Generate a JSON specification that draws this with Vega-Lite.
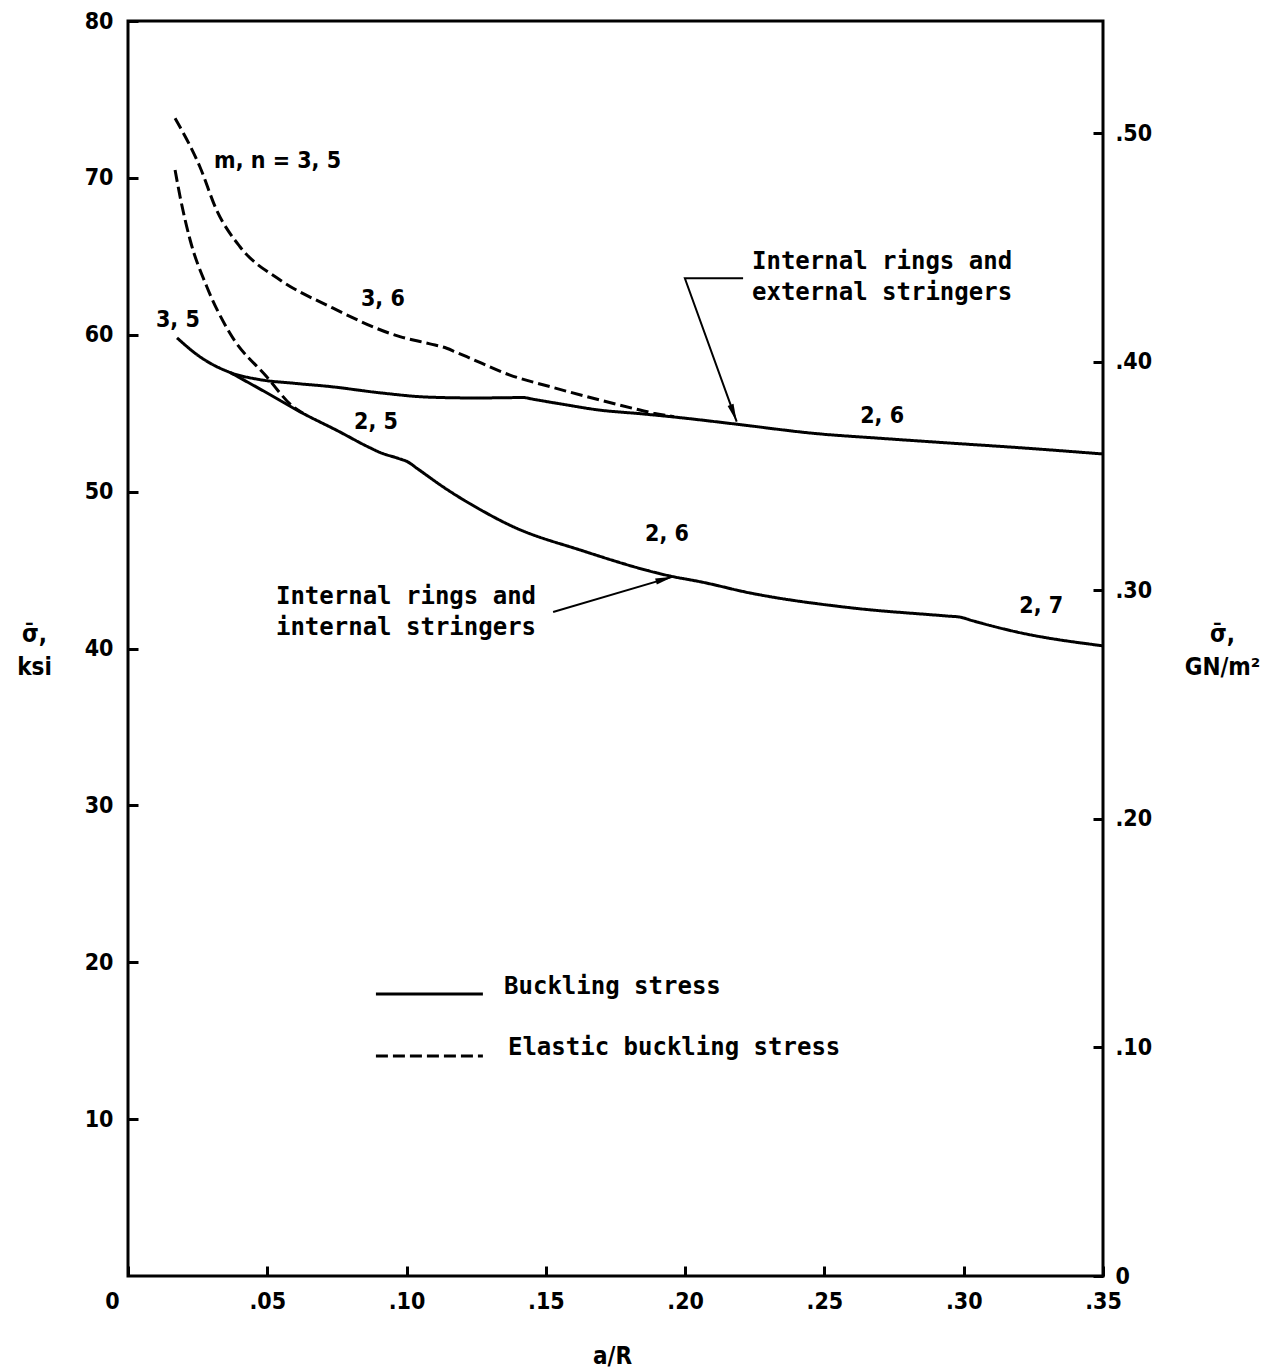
{
  "$schema": "https://vega.github.io/schema/vega-lite/v6.json",
  "autosize": {"type": "none"},
  "width": 975,
  "height": 1255,
  "padding": {"left": 128, "top": 21, "right": 174, "bottom": 94},
  "background": "white",
  "view": {"stroke": "black", "strokeWidth": 3},
  "config": {
    "font": "DejaVu Sans",
    "axis": {"labelColor": "black", "tickColor": "black", "titleColor": "black", "domain": false, "grid": false, "tickWidth": 3, "tickSize": 10, "offset": -10, "labelFlush": false, "labelFont": "DejaVu Sans Condensed, DejaVu Sans", "labelFontWeight": "bold", "labelFontSize": 23, "titleFont": "DejaVu Sans Condensed, DejaVu Sans", "titleFontSize": 24, "titleFontWeight": "bold"}
  },
  "datasets": {
    "curves": [
      {"curve": "ext_solid", "style": "solid", "a_R": 0.0176, "ksi": 59.8},
      {"curve": "ext_solid", "style": "solid", "a_R": 0.0258, "ksi": 58.6},
      {"curve": "ext_solid", "style": "solid", "a_R": 0.0366, "ksi": 57.6},
      {"curve": "ext_solid", "style": "solid", "a_R": 0.047, "ksi": 57.15},
      {"curve": "ext_solid", "style": "solid", "a_R": 0.06, "ksi": 56.9},
      {"curve": "ext_solid", "style": "solid", "a_R": 0.0724, "ksi": 56.7},
      {"curve": "ext_solid", "style": "solid", "a_R": 0.0904, "ksi": 56.3},
      {"curve": "ext_solid", "style": "solid", "a_R": 0.1083, "ksi": 56.02},
      {"curve": "ext_solid", "style": "solid", "a_R": 0.125, "ksi": 55.97},
      {"curve": "ext_solid", "style": "solid", "a_R": 0.137, "ksi": 55.99},
      {"curve": "ext_solid", "style": "solid", "a_R": 0.1416, "ksi": 56.0},
      {"curve": "ext_solid", "style": "solid", "a_R": 0.146, "ksi": 55.87},
      {"curve": "ext_solid", "style": "solid", "a_R": 0.155, "ksi": 55.6},
      {"curve": "ext_solid", "style": "solid", "a_R": 0.1692, "ksi": 55.2},
      {"curve": "ext_solid", "style": "solid", "a_R": 0.185, "ksi": 54.95},
      {"curve": "ext_solid", "style": "solid", "a_R": 0.199, "ksi": 54.7},
      {"curve": "ext_solid", "style": "solid", "a_R": 0.2184, "ksi": 54.3},
      {"curve": "ext_solid", "style": "solid", "a_R": 0.247, "ksi": 53.7},
      {"curve": "ext_solid", "style": "solid", "a_R": 0.27, "ksi": 53.4},
      {"curve": "ext_solid", "style": "solid", "a_R": 0.2947, "ksi": 53.1},
      {"curve": "ext_solid", "style": "solid", "a_R": 0.32, "ksi": 52.8},
      {"curve": "ext_solid", "style": "solid", "a_R": 0.35, "ksi": 52.4},

      {"curve": "int_solid", "style": "solid", "a_R": 0.0366, "ksi": 57.6},
      {"curve": "int_solid", "style": "solid", "a_R": 0.0498, "ksi": 56.3},
      {"curve": "int_solid", "style": "solid", "a_R": 0.0627, "ksi": 55.0},
      {"curve": "int_solid", "style": "solid", "a_R": 0.075, "ksi": 53.9},
      {"curve": "int_solid", "style": "solid", "a_R": 0.0868, "ksi": 52.8},
      {"curve": "int_solid", "style": "solid", "a_R": 0.0904, "ksi": 52.5},
      {"curve": "int_solid", "style": "solid", "a_R": 0.097, "ksi": 52.12},
      {"curve": "int_solid", "style": "solid", "a_R": 0.1004, "ksi": 51.9},
      {"curve": "int_solid", "style": "solid", "a_R": 0.104, "ksi": 51.45},
      {"curve": "int_solid", "style": "solid", "a_R": 0.1144, "ksi": 50.15},
      {"curve": "int_solid", "style": "solid", "a_R": 0.125, "ksi": 49.0},
      {"curve": "int_solid", "style": "solid", "a_R": 0.1383, "ksi": 47.76},
      {"curve": "int_solid", "style": "solid", "a_R": 0.1623, "ksi": 46.28},
      {"curve": "int_solid", "style": "solid", "a_R": 0.1957, "ksi": 44.58},
      {"curve": "int_solid", "style": "solid", "a_R": 0.2053, "ksi": 44.26},
      {"curve": "int_solid", "style": "solid", "a_R": 0.2233, "ksi": 43.54},
      {"curve": "int_solid", "style": "solid", "a_R": 0.2592, "ksi": 42.6},
      {"curve": "int_solid", "style": "solid", "a_R": 0.294, "ksi": 42.07},
      {"curve": "int_solid", "style": "solid", "a_R": 0.2987, "ksi": 42.0},
      {"curve": "int_solid", "style": "solid", "a_R": 0.303, "ksi": 41.78},
      {"curve": "int_solid", "style": "solid", "a_R": 0.3191, "ksi": 41.05},
      {"curve": "int_solid", "style": "solid", "a_R": 0.35, "ksi": 40.17},

      {"curve": "ext_dashed", "style": "dashed", "a_R": 0.0169, "ksi": 73.8},
      {"curve": "ext_dashed", "style": "dashed", "a_R": 0.0258, "ksi": 70.71},
      {"curve": "ext_dashed", "style": "dashed", "a_R": 0.0318, "ksi": 67.95},
      {"curve": "ext_dashed", "style": "dashed", "a_R": 0.0402, "ksi": 65.61},
      {"curve": "ext_dashed", "style": "dashed", "a_R": 0.0546, "ksi": 63.49},
      {"curve": "ext_dashed", "style": "dashed", "a_R": 0.0725, "ksi": 61.79},
      {"curve": "ext_dashed", "style": "dashed", "a_R": 0.0976, "ksi": 59.88},
      {"curve": "ext_dashed", "style": "dashed", "a_R": 0.1084, "ksi": 59.42},
      {"curve": "ext_dashed", "style": "dashed", "a_R": 0.1144, "ksi": 59.14},
      {"curve": "ext_dashed", "style": "dashed", "a_R": 0.118, "ksi": 58.87},
      {"curve": "ext_dashed", "style": "dashed", "a_R": 0.1216, "ksi": 58.6},
      {"curve": "ext_dashed", "style": "dashed", "a_R": 0.1371, "ksi": 57.43},
      {"curve": "ext_dashed", "style": "dashed", "a_R": 0.1515, "ksi": 56.69},
      {"curve": "ext_dashed", "style": "dashed", "a_R": 0.1694, "ksi": 55.84},
      {"curve": "ext_dashed", "style": "dashed", "a_R": 0.1838, "ksi": 55.2},
      {"curve": "ext_dashed", "style": "dashed", "a_R": 0.1886, "ksi": 55.0},
      {"curve": "ext_dashed", "style": "dashed", "a_R": 0.196, "ksi": 54.78},

      {"curve": "int_dashed", "style": "dashed", "a_R": 0.0169, "ksi": 70.5},
      {"curve": "int_dashed", "style": "dashed", "a_R": 0.0187, "ksi": 68.8},
      {"curve": "int_dashed", "style": "dashed", "a_R": 0.0223, "ksi": 66.04},
      {"curve": "int_dashed", "style": "dashed", "a_R": 0.0283, "ksi": 63.06},
      {"curve": "int_dashed", "style": "dashed", "a_R": 0.0366, "ksi": 60.09},
      {"curve": "int_dashed", "style": "dashed", "a_R": 0.0498, "ksi": 57.32},
      {"curve": "int_dashed", "style": "dashed", "a_R": 0.0593, "ksi": 55.41},
      {"curve": "int_dashed", "style": "dashed", "a_R": 0.0628, "ksi": 55.0}
    ],
    "legend_lines": [
      {"style": "solid", "a_R": 0.089, "ksi": 17.98},
      {"style": "solid", "a_R": 0.1274, "ksi": 17.98},
      {"style": "dashed", "a_R": 0.089, "ksi": 14.02},
      {"style": "dashed", "a_R": 0.1274, "ksi": 14.02}
    ],
    "arrows": [
      {"arrow": "upper", "i": 0, "a_R": 0.2208, "ksi": 63.6},
      {"arrow": "upper", "i": 1, "a_R": 0.1999, "ksi": 63.6},
      {"arrow": "upper", "i": 2, "a_R": 0.2185, "ksi": 54.46},
      {"arrow": "lower", "i": 0, "a_R": 0.1526, "ksi": 42.33},
      {"arrow": "lower", "i": 1, "a_R": 0.1957, "ksi": 44.58}
    ],
    "heads_upper": [{"a_R": 0.2185, "ksi": 54.46}],
    "heads_lower": [{"a_R": 0.1957, "ksi": 44.58}],
    "mode_labels": [
      {"label": "m, n = 3, 5", "a_R": 0.0537, "ksi": 71.07},
      {"label": "3, 6", "a_R": 0.0915, "ksi": 62.3},
      {"label": "3, 5", "a_R": 0.0179, "ksi": 60.94},
      {"label": "2, 5", "a_R": 0.089, "ksi": 54.44},
      {"label": "2, 6", "a_R": 0.2707, "ksi": 54.82},
      {"label": "2, 6", "a_R": 0.1935, "ksi": 47.3},
      {"label": "2, 7", "a_R": 0.3278, "ksi": 42.71}
    ],
    "words_center": [
      {"label": "Internal rings and", "a_R": 0.0998, "ksi": 43.28},
      {"label": "internal stringers", "a_R": 0.0998, "ksi": 41.31}
    ],
    "words_left": [
      {"label": "Internal rings and", "a_R": 0.224, "ksi": 64.64},
      {"label": "external stringers", "a_R": 0.224, "ksi": 62.66},
      {"label": "Buckling stress", "a_R": 0.135, "ksi": 18.42},
      {"label": "Elastic buckling stress", "a_R": 0.1364, "ksi": 14.53}
    ],
    "si_axis": [{"GN": 0}, {"GN": 0.549}]
  },
  "resolve": {"scale": {"y": "independent"}},
  "layer": [
    {
      "encoding": {
        "x": {
          "field": "a_R", "type": "quantitative",
          "scale": {"domain": [0, 0.35], "nice": false, "zero": false},
          "axis": {
            "values": [0, 0.05, 0.1, 0.15, 0.2, 0.25, 0.3, 0.35],
            "labelExpr": "datum.value == 0 ? '0' : replace(format(datum.value, '.2f'), '0.', '.')",
            "labelOffset": {"condition": {"test": "datum.value === 0", "value": -16}, "value": 0},
            "labelPadding": 14,
            "title": "a/R",
            "titleX": 484, "titleY": 90, "titleAlign": "center", "titleBaseline": "middle", "titleAngle": 0
          }
        },
        "y": {
          "field": "ksi", "type": "quantitative",
          "scale": {"domain": [0, 80], "nice": false, "zero": false},
          "axis": {
            "values": [10, 20, 30, 40, 50, 60, 70, 80],
            "labelPadding": 15,
            "title": ["σ̄,", "ksi"],
            "titleX": -104, "titleY": 613, "titleAlign": "center", "titleBaseline": "middle", "titleAngle": 0, "titleLineHeight": 33
          }
        }
      },
      "layer": [
        {
          "data": {"name": "curves"},
          "mark": {"type": "line", "strokeWidth": 3, "color": "black", "interpolate": "monotone"},
          "encoding": {
            "detail": {"field": "curve"},
            "strokeDash": {"field": "style", "type": "nominal", "scale": {"domain": ["solid", "dashed"], "range": [[1, 0], [12, 5]]}, "legend": null}
          }
        },
        {
          "data": {"name": "legend_lines"},
          "mark": {"type": "line", "strokeWidth": 3, "color": "black"},
          "encoding": {
            "detail": {"field": "style"},
            "strokeDash": {"field": "style", "type": "nominal", "scale": {"domain": ["solid", "dashed"], "range": [[1, 0], [11, 4.5]]}, "legend": null}
          }
        },
        {
          "data": {"name": "arrows"},
          "mark": {"type": "line", "strokeWidth": 2, "color": "black"},
          "encoding": {
            "detail": {"field": "arrow"},
            "order": {"field": "i", "type": "quantitative"}
          }
        },
        {
          "data": {"name": "heads_upper"},
          "mark": {"type": "point", "shape": "M0,0L-0.35,2L0.35,2Z", "size": 320, "angle": 160, "filled": true, "color": "black", "opacity": 1}
        },
        {
          "data": {"name": "heads_lower"},
          "mark": {"type": "point", "shape": "M0,0L-0.35,2L0.35,2Z", "size": 320, "angle": 74, "filled": true, "color": "black", "opacity": 1}
        },
        {
          "data": {"name": "mode_labels"},
          "mark": {"type": "text", "font": "DejaVu Sans Condensed, DejaVu Sans", "fontWeight": "bold", "fontSize": 23, "align": "center", "baseline": "middle", "color": "black"},
          "encoding": {"text": {"field": "label"}}
        },
        {
          "data": {"name": "words_center"},
          "mark": {"type": "text", "font": "DejaVu Sans Mono", "fontWeight": "bold", "fontSize": 24, "align": "center", "baseline": "middle", "color": "black"},
          "encoding": {"text": {"field": "label"}}
        },
        {
          "data": {"name": "words_left"},
          "mark": {"type": "text", "font": "DejaVu Sans Mono", "fontWeight": "bold", "fontSize": 24, "align": "left", "baseline": "middle", "color": "black"},
          "encoding": {"text": {"field": "label"}}
        }
      ]
    },
    {
      "data": {"name": "si_axis"},
      "mark": {"type": "point", "opacity": 0},
      "encoding": {
        "y": {
          "field": "GN", "type": "quantitative",
          "scale": {"domain": [0, 0.549], "nice": false, "zero": false},
          "axis": {
            "orient": "right",
            "values": [0, 0.1, 0.2, 0.3, 0.4, 0.5],
            "labelExpr": "datum.value == 0 ? '0' : replace(format(datum.value, '.2f'), '0.', '.')",
            "labelPadding": 12,
            "title": ["σ̄,", "GN/m²"],
            "titleX": 129, "titleY": 613, "titleAlign": "center", "titleBaseline": "middle", "titleAngle": 0, "titleLineHeight": 33
          }
        }
      }
    }
  ]
}
